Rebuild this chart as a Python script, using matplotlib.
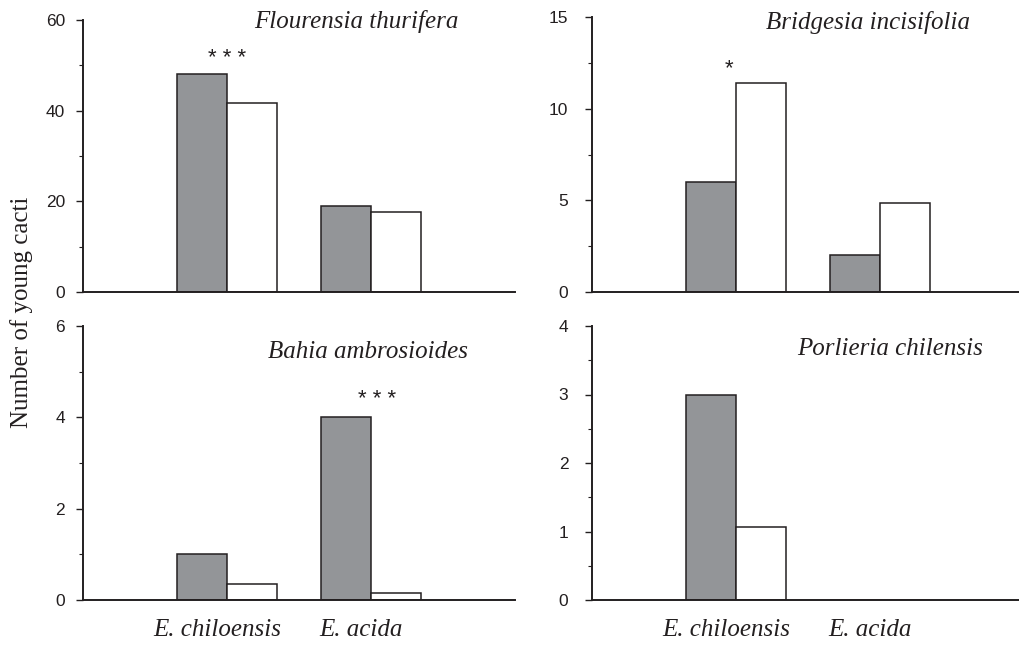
import matplotlib
matplotlib.use('Agg')
import matplotlib.pyplot as plt
import matplotlib.transforms as mtransforms
from matplotlib.ticker import MultipleLocator

# shrub species (x groups) and the two bar series per panel
shrubs = ['E. chiloensis', 'E. acida']
panel_titles = ['Flourensia thurifera', 'Bridgesia incisifolia',
                'Bahia ambrosioides', 'Porlieria chilensis']
observed = [[48, 19], [6, 2], [1, 4], [3, 0]]
expected = [[41.7, 17.7], [11.4, 4.85], [0.35, 0.15], [1.07, 0]]
y_max = [60, 15, 6, 4]
y_major = [20, 5, 2, 1]
y_minor = [10, 2.5, 1, 0.5]
# significance marks: (group index, height, label)
stars = [(0, 51.5, '* * *'), (0, 12.2, '*'), (1, 4.38, '* * *'), None]

gray = '#939598'
dark = '#231f20'
serif = 'Liberation Serif'
sans = 'Liberation Sans'

fig = plt.figure(figsize=(10.2, 6.45), dpi=100)
W, H = 1020, 645

# axes boxes in pixels: left, top, right, bottom
boxes = [(83, 20, 515, 292), (592, 17, 1024, 292),
         (83, 326, 515, 600), (592, 326, 1024, 600)]
title_pos = [(0.87, 0.993), (0.875, 0.98), (0.891, 0.905), (0.905, 0.916)]
label_pad = [8, 12, 8, 12]
star_dx = [0.0, -0.05, 0.04, 0.0]

positions = [1, 2]
width = 0.35
shift = mtransforms.ScaledTranslation(-10 / 100, 0, fig.dpi_scale_trans)

for i in range(4):
    l, t, r, b = boxes[i]
    ax = fig.add_axes([l / W, 1 - b / H, (r - l) / W, (b - t) / H])
    ax.bar([p - width / 2 for p in positions], observed[i], width,
           color=gray, edgecolor=dark, linewidth=1.1, zorder=3)
    ax.bar([p + width / 2 for p in positions], expected[i], width,
           color='white', edgecolor=dark, linewidth=1.1, zorder=3)
    ax.set_xlim(0, 3)
    ax.set_ylim(0, y_max[i])
    ax.yaxis.set_major_locator(MultipleLocator(y_major[i]))
    ax.yaxis.set_minor_locator(MultipleLocator(y_minor[i]))
    for s in ['top', 'right']:
        ax.spines[s].set_visible(False)
    for s in ['left', 'bottom']:
        ax.spines[s].set_linewidth(1.4)
        ax.spines[s].set_color(dark)
        ax.spines[s].set_zorder(4)
    ax.spines['left'].set_bounds(0, y_max[i])
    ax.tick_params(axis='y', which='major', length=5, width=1.0, color=dark,
                   pad=label_pad[i], labelsize=12.5, labelcolor=dark)
    ax.tick_params(axis='y', which='minor', length=3, width=0.8, color=dark)
    for lab in ax.get_yticklabels():
        lab.set_family(sans)
    ax.set_xticks(positions)
    if i >= 2:
        ax.set_xticklabels(shrubs, family=serif, style='italic', fontsize=18,
                           color=dark)
        ax.tick_params(axis='x', length=0, pad=14)
        for lab in ax.get_xticklabels():
            lab.set_transform(lab.get_transform() + shift)
    else:
        ax.set_xticklabels([])
        ax.tick_params(axis='x', length=0)
    ax.text(title_pos[i][0], title_pos[i][1], panel_titles[i],
            transform=ax.transAxes, ha='right', va='center',
            family=serif, style='italic', fontsize=18, color=dark)
    if stars[i] is not None:
        g, h, s = stars[i]
        ax.text(positions[g] + star_dx[i], h, s, ha='center', va='center',
                family=sans, fontsize=16, color=dark)

fig.text(22 / W, 1 - 312 / H, 'Number of young cacti', rotation=90,
         ha='center', va='center', family=serif, fontsize=18, color=dark)

fig.savefig('out.png', dpi=100)
